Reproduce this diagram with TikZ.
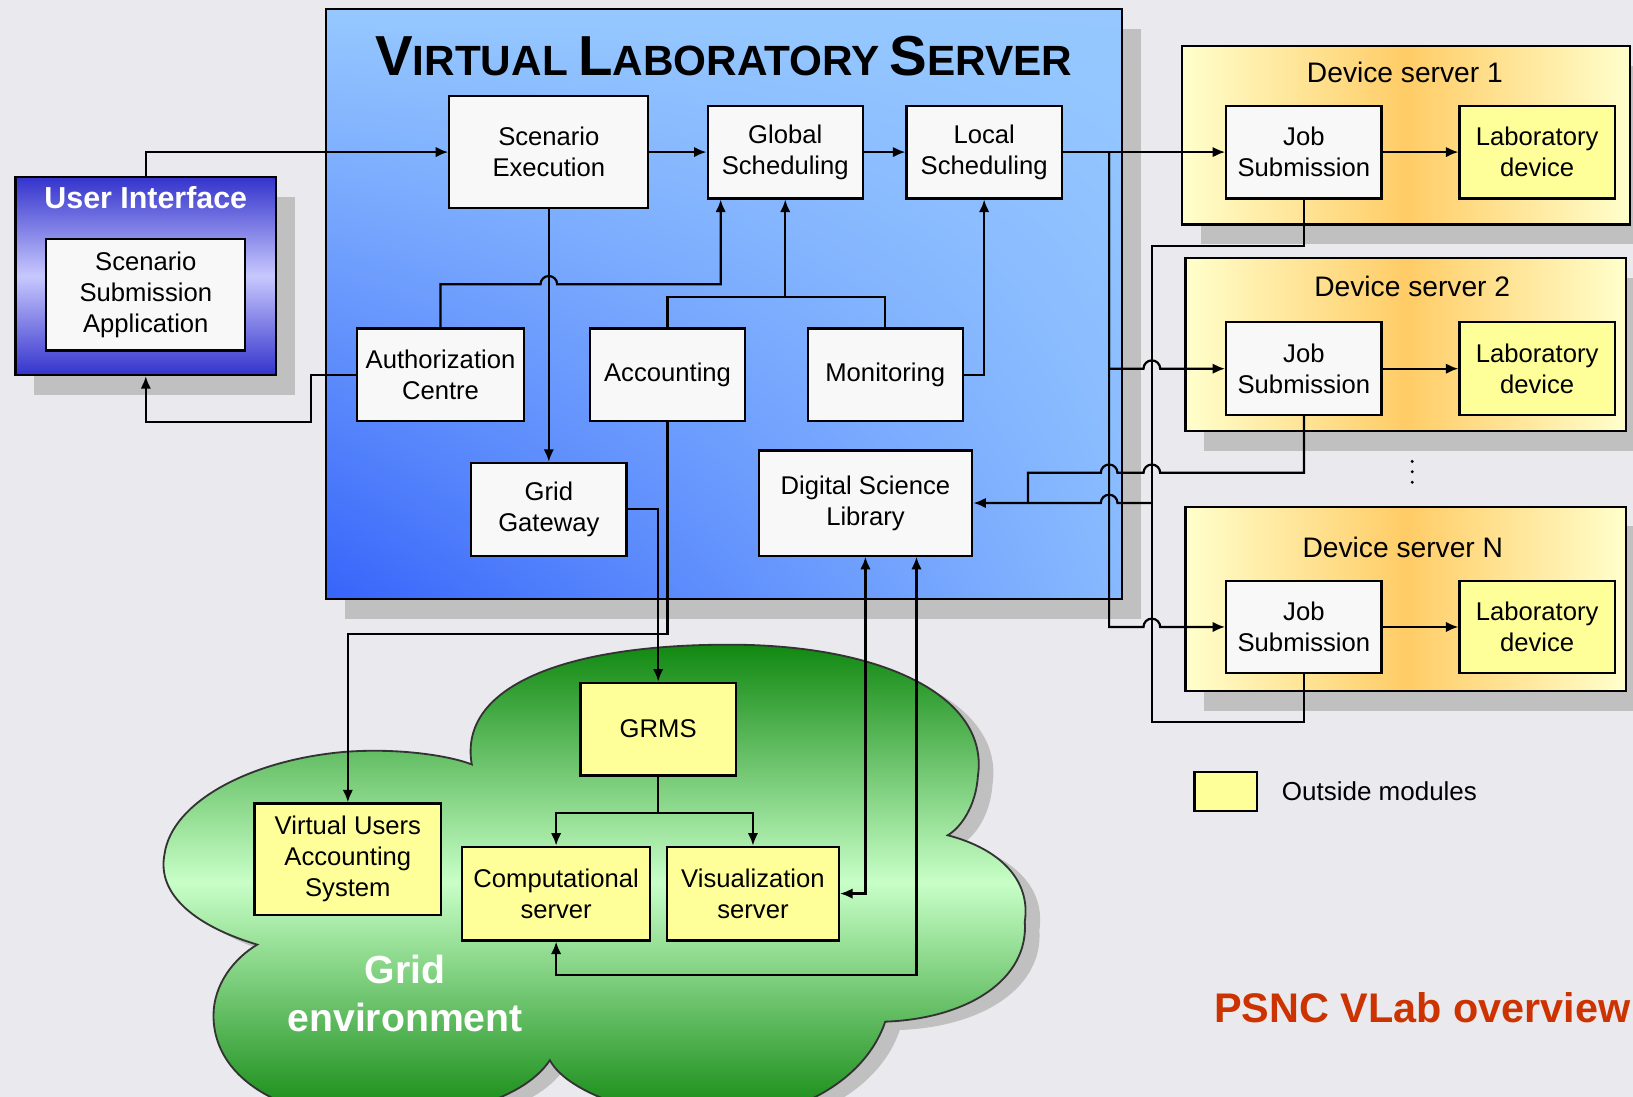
\documentclass[tikz,border=0pt]{standalone}
\usepackage{fontspec}
\setmainfont{Liberation Sans}
\usepackage{tikz}
\usetikzlibrary{arrows.meta,positioning,shadows,shadings,calc}

\definecolor{bgcol}{RGB}{233,233,238}
\definecolor{shadowgray}{RGB}{192,192,192}
\definecolor{vlsup}{RGB}{150,200,255}
\definecolor{vlsmid}{RGB}{135,185,255}
\definecolor{vlsdark}{RGB}{55,100,250}
\definecolor{uidark}{RGB}{51,51,204}
\definecolor{uilight}{RGB}{200,200,255}
\definecolor{dsedge}{RGB}{255,255,204}
\definecolor{dsmid}{RGB}{255,204,102}
\definecolor{outmod}{RGB}{255,255,153}
\definecolor{boxwhite}{RGB}{248,248,248}
\definecolor{gridgreen}{RGB}{17,136,17}
\definecolor{gridlight}{RGB}{200,255,200}
\definecolor{psncred}{RGB}{204,51,0}

% big first letter, smaller rest (small caps look)
\newcommand{\scap}[2]{{\fontsize{15.4}{18}\selectfont #1}{\fontsize{11.55}{18}\selectfont #2}}

\begin{document}
\begin{tikzpicture}[x=0.01cm,y=-0.01cm,>={Latex[length=1.2mm,width=1mm]},line width=0.6pt]
\tikzstyle{blk}=[draw, fill=boxwhite, minimum width=1.49cm, minimum height=0.89cm,
inner sep=1pt, align=center, font=\fontsize{7}{8.5}\selectfont]
\tikzstyle{ext}=[blk, fill=outmod]
\tikzstyle{shd}=[drop shadow={shadow xshift=0.18cm, shadow yshift=-0.19cm, opacity=1, fill=shadowgray}]
\tikzstyle{dsrv}=[draw, shd, left color=dsedge, right color=dsedge, middle color=dsmid]
\tikzstyle{dstitle}=[font=\fontsize{7.7}{9}\selectfont]

\useasboundingbox (0,0) rectangle (1568,1053);
\fill[bgcol] (0,0) rectangle (1568,1053);

% Virtual laboratory server
\node[draw, shd, upper left=vlsup, upper right=vlsup, lower left=vlsdark, lower right=vlsmid,
minimum width=7.64cm, minimum height=5.66cm, inner sep=0pt] (vls) at (695,292) {};
\node (title) at (695,54) {\bfseries\scap{V}{IRTUAL} \scap{L}{ABORATORY} \scap{S}{ERVER}};

\node[blk, minimum width=1.91cm, minimum height=1.07cm] (scen) at (527,146) {Scenario\\Execution};
\node[blk] (glob) at (754,146) {Global\\Scheduling};
\node[blk] (loc) at (945,146) {Local\\Scheduling};
\node[blk, minimum width=1.6cm] (auth) at (423,360) {Authorization\\Centre};
\node[blk] (acc) at (641,360) {Accounting};
\node[blk] (mon) at (850,360) {Monitoring};
\node[blk] (gate) at (527,489) {Grid\\Gateway};
\node[blk, minimum width=2.05cm, minimum height=1.01cm] (dsl) at (831,483) {Digital Science\\Library};

% User interface
\node[draw, shd, top color=uidark, bottom color=uidark, middle color=uilight,
minimum width=2.5cm, minimum height=1.9cm] (ui) at (140,265) {};
\node[text=white, font=\bfseries\fontsize{8.3}{10}\selectfont] (uititle) at (140,190) {User Interface};
\node[blk, minimum width=1.91cm, minimum height=1.07cm] (ssa) at (140,283) {Scenario\\Submission\\Application};

% Device servers
\node[dsrv, minimum width=4.3cm, minimum height=1.71cm] (ds1) at (1350,130) {};
\node[dsrv, minimum width=4.23cm, minimum height=1.66cm] (ds2) at (1350,331) {};
\node[dsrv, minimum width=4.23cm, minimum height=1.77cm] (dsn) at (1350,575) {};
\node[dstitle] (ds1t) at (1349,70) {Device server 1};
\node[dstitle] (ds2t) at (1356,275) {Device server 2};
\node[dstitle] (dsnt) at (1347,526) {Device server N};
\foreach \y in {443,453,463} \fill (1356,\y) circle (1.6);

\node[blk] (js1) at (1252,146) {Job\\Submission};
\node[ext] (lab1) at (1476,146) {Laboratory\\device};
\node[blk] (js2) at (1252,354) {Job\\Submission};
\node[ext] (lab2) at (1476,354) {Laboratory\\device};
\node[blk] (jsn) at (1252,602) {Job\\Submission};
\node[ext] (labn) at (1476,602) {Laboratory\\device};

% Grid environment
\draw[black!80, line width=0.5pt, top color=gridgreen, bottom color=gridgreen, middle color=gridlight,
drop shadow={shadow xshift=0.14cm, shadow yshift=-0.08cm, opacity=1, fill=shadowgray}]
(453,734) .. controls (440,660) and (540,619) .. (700,619)
.. controls (850,619) and (950,670) .. (939,745)
.. controls (937,775) and (922,795) .. (910,802)
.. controls (960,815) and (990,845) .. (984,885)
.. controls (988,940) and (930,978) .. (850,981)
.. controls (830,1040) and (760,1075) .. (690,1075)
.. controls (620,1075) and (545,1050) .. (528,1018)
.. controls (500,1060) and (420,1075) .. (360,1075)
.. controls (280,1075) and (205,1040) .. (205,975)
.. controls (205,945) and (225,920) .. (247,907)
.. controls (190,890) and (150,860) .. (158,820)
.. controls (165,770) and (240,730) .. (330,722)
.. controls (380,718) and (430,725) .. (453,734) -- cycle;
\node[text=white, align=center, font=\bfseries\fontsize{10.7}{13}\selectfont] (gridt) at (389,954) {Grid\\environment};

\node[ext] (grms) at (632,700) {GRMS};
\node[ext, minimum width=1.79cm, minimum height=1.07cm] (vuas) at (334,825) {Virtual Users\\Accounting\\System};
\node[ext, minimum width=1.8cm, minimum height=0.9cm] (comp) at (534,858) {Computational\\server};
\node[ext, minimum width=1.65cm, minimum height=0.9cm] (vis) at (723,858) {Visualization\\server};

% legend and caption
\node[ext, minimum width=0.6cm, minimum height=0.37cm] (leg) at (1177,760) {};
\node[right=0.1cm of leg, font=\fontsize{7.1}{8.5}\selectfont] (legt) {Outside modules};
\node[anchor=west, inner sep=0pt, text=psncred, font=\bfseries\fontsize{11.3}{14}\selectfont] (psnc) at (1165,968) {PSNC VLab overview};

% connectors
\coordinate (dist) at (1065,146);
\coordinate (coll) at (1106,236);
\coordinate (collb) at (1106,693);
\coordinate (j2l) at (1252,454);
\coordinate (j2c) at (987,454);
\coordinate (am) at (754,285);
\coordinate (ag) at (692,273);
\coordinate (au) at (299,405);
\coordinate (av) at (641,609);
\coordinate (gs) at (632,781);
\coordinate (dc) at (880,936);

\draw[->] (ui.north) |- (scen.west);
\draw[->] (scen.east) -- (glob.west);
\draw[->] (glob.east) -- (loc.west);
\draw[->] (loc.east) -- (js1.west);
\draw[->] (dist) |- ($(js2.west -| coll)-(8,0)$) arc(180:360:8) -- (js2.west);
\draw[->] (dist) |- ($(jsn.west -| coll)-(8,0)$) arc(180:360:8) -- (jsn.west);
\draw[->] (js1) -- (lab1);
\draw[->] (js2) -- (lab2);
\draw[->] (jsn) -- (labn);

\draw (js1.south) |- (coll) -- (collb) -| (jsn.south);
\draw (js2.south) -- (j2l) -- ($(coll |- j2l)+(8,0)$) arc(0:-180:8)
-- ($(dist |- j2l)+(8,0)$) arc(0:-180:8) -- (j2c) -- (j2c |- dsl.east);
\draw[->] (coll |- dsl.east) -- ($(dist |- dsl.east)+(8,0)$) arc(0:-180:8) -- (dsl.east);

\draw[->] (mon.east) -| (loc.south);
\draw (acc.north) |- (am) -| (mon.north);
\draw[->] (am) -- (glob.south);
\draw[->] (auth.north) |- ($(scen.south |- ag)-(8,0)$) arc(180:360:8) -- (ag) -- (ag |- glob.south);
\draw[->] (auth.west) -| (au) -| (ui.south);
\draw[->] (scen.south) -- (gate.north);
\draw[->] (gate.east) -| (grms.north);
\draw[->] (acc.south) -- (av) -| (vuas.north);
\draw (grms.south) -- (gs);
\draw[->] (gs) -| (comp.north);
\draw[->] (gs) -| (vis.north);
\draw[<->] (dsl.south) |- (vis.east);
\draw[<->] (dsl.south -| dc) -- (dc) -| (comp.south);

\end{tikzpicture}
\end{document}
